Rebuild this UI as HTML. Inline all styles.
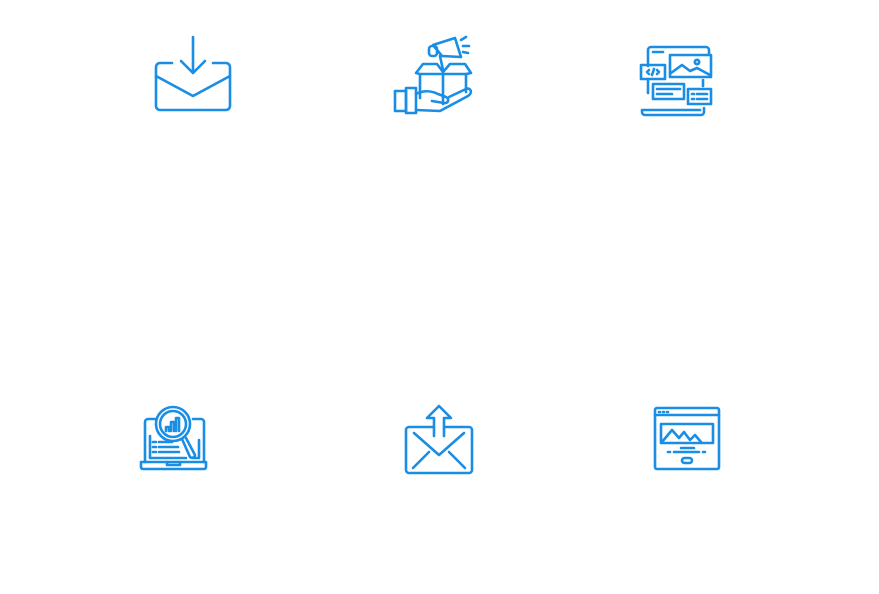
<!DOCTYPE html>
<html><head><meta charset="utf-8"><style>
html,body{margin:0;padding:0;background:#fff;width:879px;height:594px;overflow:hidden}
svg{position:absolute;left:0;top:0}
</style></head><body>
<svg width="879" height="594" viewBox="0 0 879 594" fill="none" stroke="#1a8de4" stroke-width="2.6" stroke-linecap="round" stroke-linejoin="round">
<!-- Icon 1: inbox envelope -->
<path d="M172 63 H160 a4 4 0 0 0 -4 4 V106 a4 4 0 0 0 4 4 H226 a4 4 0 0 0 4 -4 V67 a4 4 0 0 0 -4 -4 H213"/>
<path d="M156 76 L193 96 L230 76"/>
<path d="M193 37 V73 M181 61 L193 73 L205 61"/>

<!-- Icon 2: box hand megaphone -->
<rect x="395" y="91" width="11" height="20"/>
<rect x="406" y="88" width="10" height="25"/>
<path d="M416 94 C424 90 432 91 438 94 L446 97 C450 99 448 104 444 103 L432 101"/>
<path d="M416 110 L440 111 L468 96 C473 93 471 87 466 89 L449 97"/>
<path d="M420 74 V98 M466 74 V92 M420 74 H466 M420 74 L416 73 L423 64 H437 L443 72 M466 74 L471 73 L465 64 H450 L443 72 M443 72 V104"/>
<path d="M443 70 L440 56"/>
<path d="M433 45 L455 38 L461 57 L442 56 Z"/>
<rect x="429" y="46" width="8" height="10" rx="3"/>
<path d="M461 40 L466 37 M463 46 H469 M463 52 L468 53"/>

<!-- Icon 3: web design -->
<path d="M648 66 V50 a3 3 0 0 1 3 -3 H706 a3 3 0 0 1 3 3 V54 M648 79 V93 M704 108 V112 a3 3 0 0 1 -3 3 H645 a3 3 0 0 1 -3 -3 V110 H700"/>
<path d="M653 52 H663"/>
<rect x="670" y="55" width="41" height="22"/>
<path d="M671 73 L682 65 L690 71 L697 68 L710 75"/>
<circle cx="697" cy="62" r="2.2"/>
<rect x="641" y="65" width="24" height="14"/>
<path d="M649 70 L647 72 L649 74 M657 70 L659 72 L657 74 M654 69 L652 75"/>
<rect x="653" y="84" width="31" height="15"/>
<path d="M657 89 H680 M657 94 H672"/>
<path d="M703 80 V86"/>
<rect x="688" y="89" width="23" height="15"/>
<path d="M692 94 H694 M697 94 H707 M692 99 H694 M697 99 H707"/>

<!-- Icon 4: laptop search -->
<path d="M156 419 H148 a3 3 0 0 0 -3 3 V462 M204 462 V422 a3 3 0 0 0 -3 -3 H193"/>
<path d="M150 436 V458 H186 M199 440 V458 H193"/>
<path d="M141 462 H206 V467 a2 2 0 0 1 -2 2 H143 a2 2 0 0 1 -2 -2 Z"/>
<path d="M167 462 V465 H180 V462"/>
<circle cx="173" cy="424" r="17"/>
<circle cx="173" cy="424" r="13"/>
<path d="M166 431 V427 H169 V431 M171 431 V422 H174 V431 M176 431 V418 H179 V431"/>
<path d="M182 439 L190 457 a3 3 0 0 0 5 -2 L186 438"/>
<path d="M153 442 H156 M159 442 H172 M153 447 H156 M159 447 H178 M153 452 H156 M159 452 H179"/>

<!-- Icon 5: send envelope -->
<path d="M433 427 H409 a3 3 0 0 0 -3 3 V470 a3 3 0 0 0 3 3 H469 a3 3 0 0 0 3 -3 V430 a3 3 0 0 0 -3 -3 H445"/>
<path d="M414 433 L439 455 L464 433"/>
<path d="M413 468 L429 452 M465 468 L449 452"/>
<path d="M434 436 V418 H427 L439 406 L451 418 H444 V436"/>

<!-- Icon 6: browser -->
<rect x="655" y="408" width="64" height="61" rx="2"/>
<path d="M655 415 H719"/>
<path d="M659 412 H660 M663 412 H664 M667 412 H668"/>
<rect x="661" y="424" width="52" height="19"/>
<path d="M662 442 L672 430 L679 438 L684 432 L690 440 L695 435 L701 442"/>
<path d="M681 448 H694 M668 452 H670 M674 452 H699 M703 452 H705"/>
<rect x="682" y="458" width="10" height="5" rx="2.5"/>
</svg>
</body></html>
